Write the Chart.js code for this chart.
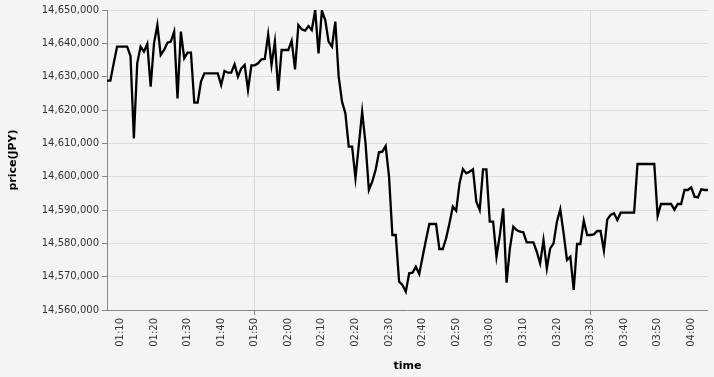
<!DOCTYPE html>
<html>
<head>
<meta charset="utf-8">
<script src="https://cdn.jsdelivr.net/npm/chart.js@4/dist/chart.umd.min.js"></script>
<style>
  html, body { margin: 0; padding: 0; background: #f4f4f4; }
  #wrap { width: 714px; height: 377px; }
</style>
</head>
<body>
<div id="wrap"><canvas id="chart1"></canvas></div>
<script>
// one price per minute, starting at 01:06
var startTime = '01:06'

var prices = [
  14628800, 14628800, 14634000, 14639000, 14639000, 14639000, 14639000, 14636200, 14611500, 14634000,
  14639000, 14637500, 14639800, 14627000, 14640000, 14645500, 14636500, 14638000, 14640200, 14640500,
  14643500, 14623500, 14643500, 14635500, 14637200, 14637200, 14622200, 14622200, 14628500, 14631000,
  14631000, 14631000, 14631000, 14631000, 14627500, 14631700, 14631200, 14631200, 14633700, 14630000,
  14632500, 14633500, 14626000, 14633400, 14633400, 14634000, 14635200, 14635300, 14642700, 14633500,
  14640500, 14625800, 14638000, 14638000, 14638000, 14640800, 14632200, 14645500, 14644200, 14643800,
  14645200, 14644000, 14650000, 14637000, 14649800, 14647000, 14640500, 14639000, 14646500, 14630000,
  14622500, 14619000, 14609000, 14609000, 14599500, 14609500, 14619500, 14610000, 14596000, 14598500,
  14602000, 14607300, 14607500, 14609200, 14600000, 14582500, 14582500, 14568500, 14567500, 14565500,
  14571000, 14571200, 14573000, 14570800, 14576000, 14581000, 14585800, 14585800, 14585800, 14578300,
  14578300, 14581500, 14586000, 14591000, 14589800, 14598000, 14602300, 14601000, 14601500, 14602200,
  14592500, 14590000, 14602200, 14602200, 14586500, 14586500, 14576000, 14582500, 14590500, 14568200,
  14578500, 14585000, 14584000, 14583500, 14583300, 14580300, 14580300, 14580300, 14577500, 14574000,
  14581000, 14572500, 14578500, 14580000, 14586500, 14590200, 14583000, 14575000, 14576000, 14566000,
  14579800, 14579800, 14586800, 14582500, 14582500, 14582700, 14583700, 14583700, 14577800, 14587200,
  14588500, 14589000, 14587000, 14589200, 14589200, 14589200, 14589200, 14589200, 14603800, 14603800,
  14603800, 14603800, 14603800, 14603800, 14588200, 14591800, 14591800, 14591800, 14591800, 14590100,
  14591800, 14591800, 14596000, 14596000, 14596800, 14594000, 14593800, 14596200, 14596000, 14596000
]

var yMin = 14560000
var yMax = 14650000
var yStep = 10000

// minute labels hh:mm
var times = []
var m0 = parseInt(startTime.slice(0, 2)) * 60 + parseInt(startTime.slice(3))
for (var i = 0; i < prices.length; i++) {
  var m = m0 + i
  var hh = String(Math.floor(m / 60)).padStart(2, '0')
  var mm = String(m % 60).padStart(2, '0')
  times.push(hh + ':' + mm)
}

function isTenMin(i) {
  return !!times[i] && times[i].slice(-1) === '0'
}

var bgPlugin = {
  id: 'bg',
  beforeDraw: function(chart) {
    var ctx = chart.ctx
    ctx.save()
    ctx.fillStyle = '#f4f4f4'
    ctx.fillRect(0, 0, chart.width, chart.height)
    ctx.restore()
  }
}

Chart.defaults.font.family = '"DejaVu Sans", sans-serif'
Chart.defaults.font.size = 10
Chart.defaults.color = '#333'

var chart1 = new Chart(
  document.getElementById('chart1'),
  {
    type: 'line',
    data: {
      labels: times,
      datasets: [
        {
          label: 'price',
          data: prices,
          borderColor: '#000',
          borderWidth: 2.3,
          pointRadius: 0,
          tension: 0,
          fill: false
        }
      ]
    },
    options: {
      responsive: true,
      maintainAspectRatio: false,
      animation: false,
      layout: { padding: { left: 0, right: 6, top: 10, bottom: 0 } },
      plugins: {
        legend: { display: false },
        tooltip: { enabled: false }
      },
      scales: {
        x: {
          type: 'category',
          offset: false,
          afterFit: function(scale) { scale.height = 67 },
          border: { color: '#888' },
          grid: {
            color: '#dcdcdc',
            tickColor: '#888',
            lineWidth: function(c) { return isTenMin(c.index) ? 1 : 0 },
            tickLength: 5
          },
          ticks: {
            autoSkip: false,
            minRotation: 90,
            maxRotation: 90,
            padding: 3,
            callback: function(val, i) {
              return isTenMin(i) ? times[i] : null
            }
          },
          title: {
            display: true,
            text: 'time',
            color: '#000',
            font: { size: 11, weight: 'bold' },
            padding: { top: 0, bottom: 4 }
          }
        },
        y: {
          min: yMin,
          max: yMax,
          afterFit: function(scale) { scale.width = 107 },
          border: { color: '#888' },
          grid: { color: '#dcdcdc', tickColor: '#888', tickLength: 5 },
          ticks: { stepSize: yStep, padding: 3 },
          title: {
            display: true,
            text: 'price(JPY)',
            color: '#000',
            font: { size: 11, weight: 'bold' },
            padding: { top: 7, bottom: 0 }
          }
        }
      }
    },
    plugins: [bgPlugin]
  }
);
</script>
</body>
</html>
